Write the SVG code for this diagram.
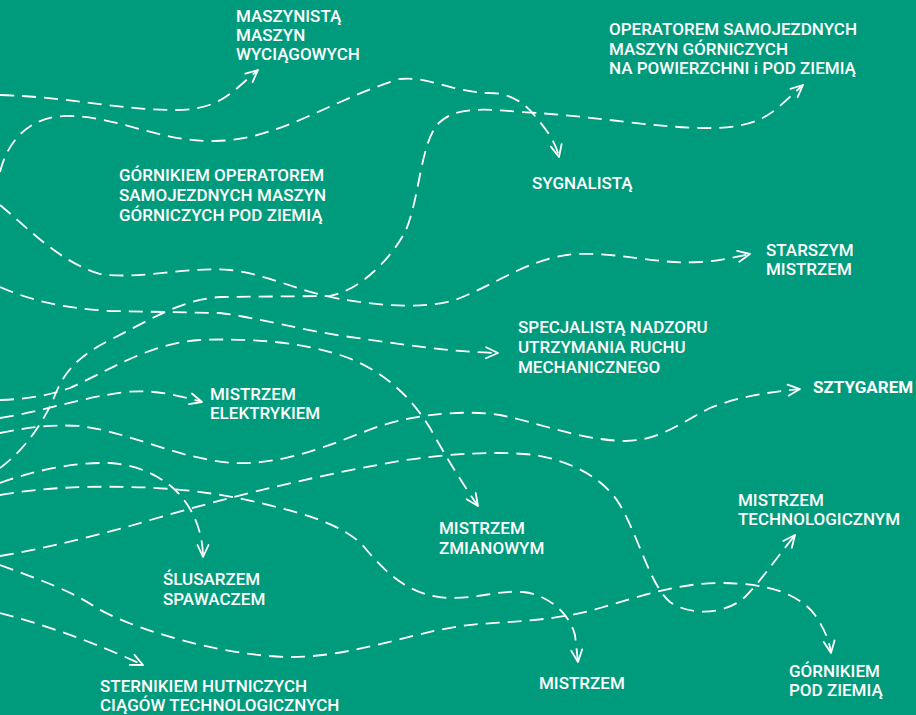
<svg xmlns="http://www.w3.org/2000/svg" width="916" height="715" viewBox="0 0 916 715">
<style>
.bg{fill:#009b7d}
.c{fill:none;stroke:#fff;stroke-width:1.8;stroke-dasharray:14 8;stroke-linecap:butt;marker-end:url(#ah)}
.t{fill:#fff;font-family:Roboto,"Liberation Sans",sans-serif;font-weight:500;font-size:17px}
.b{font-weight:700}
</style>
<defs>
<marker id="ah" markerUnits="userSpaceOnUse" markerWidth="30" markerHeight="30" viewBox="-15 -15 30 30" refX="0" refY="0" orient="auto">
<path d="M-12,-5.5 L0,0 L-12,5.5" fill="none" stroke="#fff" stroke-width="1.8" stroke-dasharray="none" stroke-linecap="round" stroke-linejoin="round"/>
</marker>
</defs>
<rect class="bg" x="0" y="0" width="916" height="715"/>
<g id="connectors">
<path id="cA" class="c" d="M0,95 C70,97 120,110 175,110 C205,110 220,102 235,90 L258,70"/>
<path id="cB" class="c" d="M0,172 C8,140 30,115 70,116 C120,117 160,142 215,141 C280,140 330,100 400,79 C430,76 450,92 490,93 C510,93 525,103 535,116 C545,128 555,140 559,157"/>
<path id="c1" class="c" d="M0,205 C30,230 60,262 100,274 C140,280 190,266 230,270 C270,275 300,292 340,299 C380,306 430,310 460,298 C500,282 530,258 575,254 C620,252 660,265 700,262 C720,261 735,257 750,254"/>
<path id="c2" class="c" d="M0,468 C25,450 45,420 55,395 C65,370 80,355 110,340 C150,320 180,300 220,297 L330,296 C360,290 390,260 405,232 C420,200 420,140 440,122 C455,108 480,108 520,112 C600,116 650,128 710,128 C740,128 760,122 775,110 C785,102 795,92 803,85"/>
<path id="c3" class="c" d="M0,287 C30,300 60,308 110,311 L220,313 C260,318 300,330 350,337 C400,344 450,352 498,353"/>
<path id="c4" class="c" d="M0,400 C30,399 50,395 70,388 C110,370 150,343 200,340 C250,338 300,342 340,355 C380,368 410,395 430,428 C445,455 460,480 478,506"/>
<path id="c5" class="c" d="M0,418 C40,412 80,398 125,392 C155,389 180,396 202,402"/>
<path id="c6" class="c" d="M0,433 C25,428 50,424 80,426 C130,432 180,460 235,463 C290,465 340,440 380,426 C420,413 470,410 500,415 C540,423 580,440 625,441 C660,441 685,420 710,408 C740,396 770,392 800,389"/>
<path id="c7" class="c" d="M0,483 C30,472 70,462 110,463 C140,465 165,478 180,495 C195,512 203,535 203,557"/>
<path id="c8" class="c" d="M0,495 C40,488 80,486 130,487 C180,488 230,494 280,508 C320,518 350,530 365,548 C385,572 410,597 450,598 C480,598 500,590 523,592 C550,595 570,615 575,635 L578,662"/>
<path id="c9" class="c" d="M0,565 C35,578 70,590 95,607 C130,628 220,656 290,657 C360,657 420,628 480,624 C520,621 560,620 600,608 C640,596 680,583 720,583 C770,583 800,595 815,615 C825,630 829,640 831,653"/>
<path id="c10" class="c" d="M0,613 C50,626 100,645 143,665"/>
<path id="c11" class="c" d="M0,556 C40,549 80,540 130,526 C200,505 300,478 400,461 C450,453 500,451 535,455 C575,462 605,480 620,505 C640,540 650,585 670,602 C690,616 725,615 745,597 C760,582 775,560 795,535"/>
</g>
<g id="n-maszynista"><text class="t"><tspan x="236" y="22">MASZYNISTĄ</tspan><tspan x="236" y="41">MASZYN</tspan><tspan x="236" y="60">WYCIĄGOWYCH</tspan></text></g>
<g id="n-operatorem"><text class="t"><tspan x="609" y="35">OPERATOREM SAMOJEZDNYCH</tspan><tspan x="609" y="55">MASZYN GÓRNICZYCH</tspan><tspan x="609" y="74">NA POWIERZCHNI i POD ZIEMIĄ</tspan></text></g>
<g id="n-sygnalista"><text class="t" x="532" y="189">SYGNALISTĄ</text></g>
<g id="n-gornikiem-operatorem"><text class="t"><tspan x="119" y="181">GÓRNIKIEM OPERATOREM</tspan><tspan x="119" y="201">SAMOJEZDNYCH MASZYN</tspan><tspan x="119" y="221">GÓRNICZYCH POD ZIEMIĄ</tspan></text></g>
<g id="n-starszym"><text class="t"><tspan x="766" y="256">STARSZYM</tspan><tspan x="766" y="275">MISTRZEM</tspan></text></g>
<g id="n-specjalista"><text class="t"><tspan x="518" y="333">SPECJALISTĄ NADZORU</tspan><tspan x="518" y="353">UTRZYMANIA RUCHU</tspan><tspan x="518" y="373">MECHANICZNEGO</tspan></text></g>
<g id="n-sztygarem"><text class="t b" x="813" y="393">SZTYGAREM</text></g>
<g id="n-elektrykiem"><text class="t"><tspan x="210" y="400">MISTRZEM</tspan><tspan x="210" y="419">ELEKTRYKIEM</tspan></text></g>
<g id="n-zmianowym"><text class="t"><tspan x="439" y="534">MISTRZEM</tspan><tspan x="439" y="554">ZMIANOWYM</tspan></text></g>
<g id="n-slusarzem"><text class="t"><tspan x="163" y="585">ŚLUSARZEM</tspan><tspan x="163" y="605">SPAWACZEM</tspan></text></g>
<g id="n-sternikiem"><text class="t"><tspan x="100" y="692">STERNIKIEM HUTNICZYCH</tspan><tspan x="100" y="711">CIĄGÓW TECHNOLOGICZNYCH</tspan></text></g>
<g id="n-mistrzem"><text class="t" x="539" y="689">MISTRZEM</text></g>
<g id="n-technologicznym"><text class="t"><tspan x="738" y="506">MISTRZEM</tspan><tspan x="738" y="525">TECHNOLOGICZNYM</tspan></text></g>
<g id="n-gornikiem"><text class="t"><tspan x="789" y="677">GÓRNIKIEM</tspan><tspan x="789" y="696">POD ZIEMIĄ</tspan></text></g>
</svg>
